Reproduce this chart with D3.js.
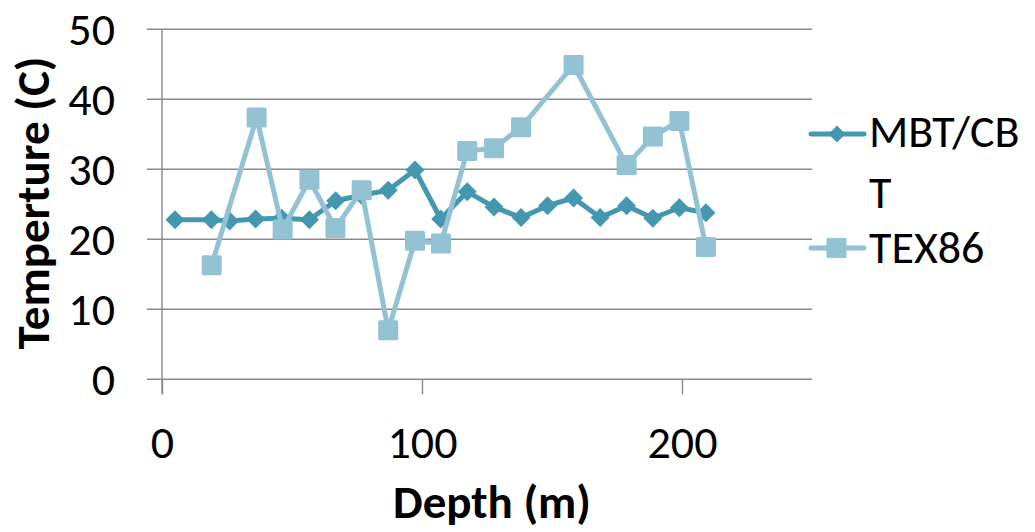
<!DOCTYPE html>
<html><head><meta charset="utf-8">
<script src="https://d3js.org/d3.v7.min.js"></script>
<style>body{margin:0;background:#fff}</style>
</head><body>
<script>
const depthMBT = [5, 19, 26, 36, 46, 56.7, 66.8, 76.7, 87, 97.3, 107.2, 117.4, 127.7, 138.1, 148.3, 158.3, 168.5, 178.7, 188.8, 199, 209.2];
const valuesMBT = [22.8, 22.8, 22.6, 22.9, 23.0, 22.8, 25.5, 26.3, 27.0, 29.9, 22.9, 26.8, 24.6, 23.1, 24.8, 25.9, 23.1, 24.8, 23.0, 24.5, 23.8];
const depthTEX = [19.1, 36.4, 46.4, 56.7, 66.7, 76.8, 87, 97.3, 107.3, 117.4, 127.7, 138.1, 158.3, 178.7, 188.8, 199, 209.2];
const valuesTEX = [16.3, 37.4, 21.4, 28.5, 21.6, 27.0, 7.0, 19.8, 19.4, 32.6, 33.0, 36.0, 44.9, 30.6, 34.7, 36.9, 18.9];
const seriesNames = ["MBT/CBT", "TEX86"];
const xTicks = [0, 100, 200];
const yTicks = [0, 10, 20, 30, 40, 50];

const W = 1035, H = 532;
const FONT = "Carlito, Calibri, 'Liberation Sans Narrow', 'Open Sans', sans-serif";
const C1 = "#4398AF", C2 = "#93C2D4", GRID = "#8a8a8a";
const FS = 46, FSB = 47;

const svg = d3.select("body").append("svg").attr("width", W).attr("height", H);
const x = d3.scaleLinear().domain([0, 250]).range([162, 812]);
const y = d3.scaleLinear().domain([0, 50]).range([379.3, 29.3]);

// gridlines
svg.append("g").selectAll("line").data(yTicks).join("line")
  .attr("x1", 147).attr("x2", 812)
  .attr("y1", d => y(d)).attr("y2", d => y(d))
  .attr("stroke", GRID).attr("stroke-width", 1.4);

// y axis
const yAxis = d3.axisLeft(y).tickValues(yTicks).tickSize(0).tickPadding(47);
const gy = svg.append("g").attr("transform", `translate(${x(0)},0)`).call(yAxis);
gy.select(".domain").remove();
gy.selectAll("text").attr("font-family", FONT).attr("font-size", FS).attr("fill", "#000").attr("dy", "0.33em");
svg.append("line").attr("x1", x(0)).attr("x2", x(0)).attr("y1", y(50)).attr("y2", y(0) + 15)
  .attr("stroke", GRID).attr("stroke-width", 1.4);

// x axis
const xAxis = d3.axisBottom(x).tickValues(xTicks).tickSize(15).tickPadding(31);
const gx = svg.append("g").attr("transform", `translate(0,${y(0)})`).call(xAxis);
gx.select(".domain").remove();
gx.selectAll("line").attr("stroke", GRID).attr("stroke-width", 1.4);
gx.selectAll("text").attr("font-family", FONT).attr("font-size", FS).attr("fill", "#000").attr("dy", "0.71em");

// titles
svg.append("text").attr("x", 492).attr("y", 518).attr("text-anchor", "middle")
  .attr("font-family", FONT).attr("font-size", FSB).attr("font-weight", "bold").text("Depth (m)");
svg.append("text").attr("transform", "translate(49,203) rotate(-90)").attr("text-anchor", "middle")
  .attr("font-family", FONT).attr("font-size", FSB).attr("font-weight", "bold").text("Temperture (C)");

const mbt = depthMBT.map((d, i) => [d, valuesMBT[i]]);
const tex = depthTEX.map((d, i) => [d, valuesTEX[i]]);
const line = d3.line().x(d => x(d[0])).y(d => y(d[1]));

const diamond = r => `M0,${-r}L${r},0L0,${r}L${-r},0Z`;

// MBT series
svg.append("path").datum(mbt).attr("d", line).attr("fill", "none")
  .attr("stroke", C1).attr("stroke-width", 5).attr("stroke-linejoin", "round").attr("stroke-linecap", "round");
svg.append("g").selectAll("path").data(mbt).join("path")
  .attr("transform", d => `translate(${x(d[0])},${y(d[1])})`)
  .attr("d", diamond(9.5)).attr("fill", C1);

// TEX86 series
svg.append("path").datum(tex).attr("d", line).attr("fill", "none")
  .attr("stroke", C2).attr("stroke-width", 5).attr("stroke-linejoin", "round").attr("stroke-linecap", "round");
svg.append("g").selectAll("rect").data(tex).join("rect")
  .attr("x", d => x(d[0]) - 10).attr("y", d => y(d[1]) - 10)
  .attr("width", 20).attr("height", 20).attr("rx", 1.5).attr("fill", C2);

// legend
const lg = svg.append("g");
lg.append("line").attr("x1", 811).attr("x2", 864).attr("y1", 134).attr("y2", 134)
  .attr("stroke", C1).attr("stroke-width", 5).attr("stroke-linecap", "round");
lg.append("path").attr("transform", "translate(837,134)").attr("d", diamond(8.5)).attr("fill", C1);
lg.append("text").attr("x", 869).attr("y", 147).attr("font-family", FONT).attr("font-size", FS).text("MBT/CB");
lg.append("text").attr("x", 869).attr("y", 208).attr("font-family", FONT).attr("font-size", FS).text("T");
lg.append("line").attr("x1", 811).attr("x2", 864).attr("y1", 248).attr("y2", 248)
  .attr("stroke", C2).attr("stroke-width", 5).attr("stroke-linecap", "round");
lg.append("rect").attr("x", 826.5).attr("y", 238).attr("width", 20).attr("height", 20).attr("rx", 1).attr("fill", C2);
lg.append("text").attr("x", 869).attr("y", 263).attr("font-family", FONT).attr("font-size", FS).text("TEX86");
</script>
</body></html>
